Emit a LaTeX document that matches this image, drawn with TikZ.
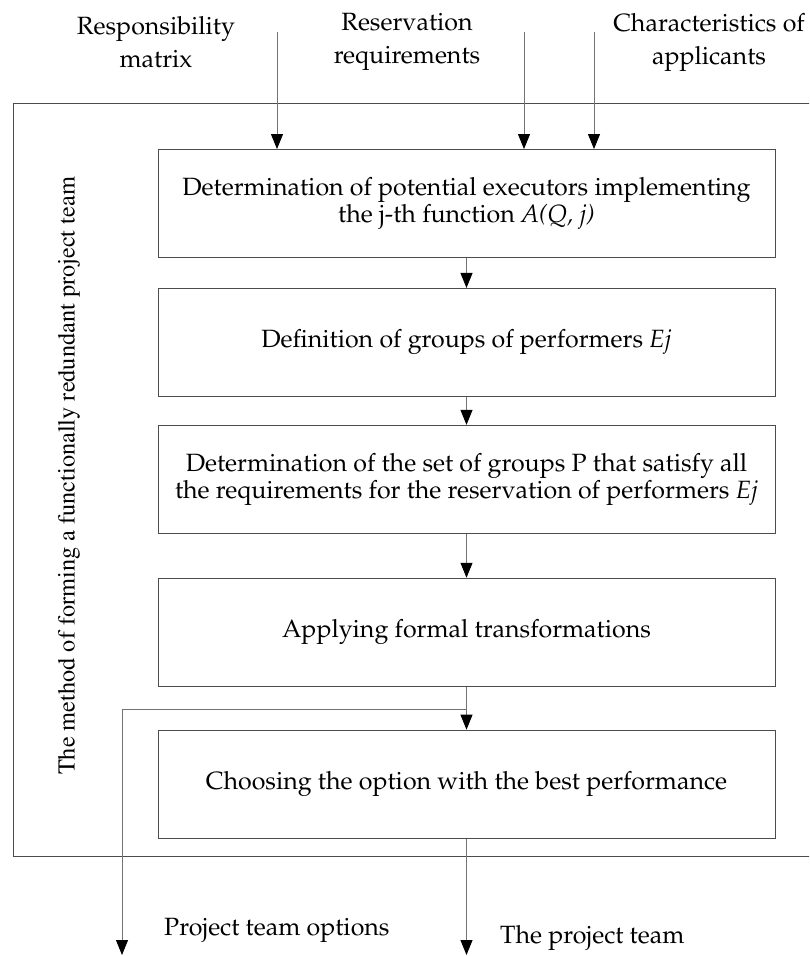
\documentclass[tikz,border=0pt]{standalone}
\usepackage[T1]{fontenc}
\usepackage{mathpazo}
\usetikzlibrary{positioning,arrows.meta}
\tikzset{stage/.style={draw=black!70,line width=0.9pt,minimum width=617pt,minimum height=108pt,
		inner sep=0pt,align=center,font=\fontsize{25}{27}\selectfont},
	inlabel/.style={align=center,inner sep=0pt,font=\fontsize{25}{33}\selectfont},
	flow/.style={color=black!55,line width=0.9pt,-{Triangle[length=15pt,width=12pt,color=black,fill=black]}}}

\begin{document}
\begin{tikzpicture}[x=1pt,y=-1pt]
			\useasboundingbox (0,0) rectangle (809,956);
			\clip (0,0) rectangle (809,956);
			% outer frame of the method
			\draw[black!70,line width=0.9pt] (13,103) rectangle (815,856);
			\node[rotate=90,inner sep=0pt,font=\usefont{T1}{ptm}{m}{n}\fontsize{24.3}{28}\selectfont] (method) at (69,476) {The method of forming a functionally redundant project team};
			% input labels
			\node[inlabel] (resp) at (156,42) {Responsibility\\matrix};
			\node[inlabel] (resv) at (407,42) {Reservation\\requirements};
			\node[inlabel] (chars) at (709,42) {Characteristics of\\applicants};
			\coordinate (in1) at (277,32);
			\coordinate (in2) at (524,32);
			\coordinate (in3) at (594,32);
			% stages
			\node[stage] (b1) at (466.5,203.5) {Determination of potential executors implementing\\the j-th function \textit{A(Q, j)}};
			\node[stage] (b2) [below=30pt of b1] {Definition of groups of performers \textit{Ej}};
			\node[stage] (b3) [below=28pt of b2] {Determination of the set of groups P that satisfy all\\the requirements for the reservation of performers \textit{Ej}};
			\node[stage] (b4) [below=44pt of b3] {Applying formal transformations};
			\node[stage] (b5) [below=43pt of b4] {Choosing the option with the best performance};
			% outputs
			\coordinate (fork) at (466.5,709);
			\coordinate (opts) at (122,955);
			\coordinate (team) at (466.5,955);
			\node[inlabel,anchor=base west] (optlabel) at (164,935) {Project team options};
			\node[inlabel,anchor=base west] (teamlabel) at (500,943) {The project team};
			\path[flow]
			(in1) edge (in1 |- b1.north)
			(in2) edge (in2 |- b1.north)
			(in3) edge (in3 |- b1.north)
			(b1) edge (b2)
			(b2) edge (b3)
			(b3) edge (b4)
			(b4) edge (b5)
			(b5) edge (team);
			\draw[flow] (fork) -| (opts);
		\end{tikzpicture}
\end{document}
